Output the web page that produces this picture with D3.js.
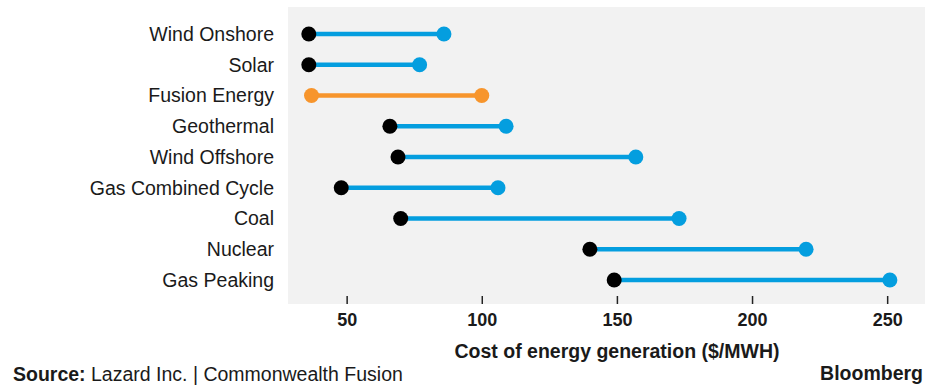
<!DOCTYPE html>
<html>
<head>
<meta charset="utf-8">
<script src="https://cdn.jsdelivr.net/npm/d3@7"></script>
<style>
  body { margin: 0; background: #ffffff; }
  text { font-family: "Liberation Sans", Arial, sans-serif; fill: #1a1a1a; }
</style>
</head>
<body>
<div id="chart"></div>
<script>
// cost ranges ($/MWH)
var sources = ["Wind Onshore", "Solar", "Fusion Energy", "Geothermal", "Wind Offshore",
               "Gas Combined Cycle", "Coal", "Nuclear", "Gas Peaking"];
var lowCost  = [36, 36, 37, 66, 69, 48, 70, 140, 149];
var highCost = [86, 77, 100, 109, 157, 106, 173, 220, 251];
var xTicks = [50, 100, 150, 200, 250];

var width = 936, height = 390;
var blue = "#049edf", orange = "#f7952c";

var svg = d3.select("#chart").append("svg")
    .attr("width", width)
    .attr("height", height);

var x = d3.scaleLinear().domain([28.3, 264]).range([288, 925]);
var y = d3.scalePoint().domain(sources).range([34, 280]);

// plot background
svg.append("rect")
    .attr("x", x.range()[0])
    .attr("y", 7)
    .attr("width", x.range()[1] - x.range()[0])
    .attr("height", 297)
    .attr("fill", "#f2f2f2");

// x axis: small ticks inside the bottom of the panel, bold labels under
var xAxis = svg.append("g")
    .attr("transform", "translate(0,304)")
    .call(d3.axisBottom(x).tickValues(xTicks).tickSize(0).tickPadding(9));
xAxis.select(".domain").remove();
xAxis.selectAll("text")
    .attr("font-size", 18)
    .attr("font-weight", "bold")
    .attr("font-family", "Liberation Sans, Arial, sans-serif")
    .attr("fill", "#1a1a1a");
xAxis.selectAll(".tick").append("line")
    .attr("y1", -8).attr("y2", 0)
    .attr("stroke", "#222").attr("stroke-width", 1.5);

// y labels
svg.selectAll(".ylab")
    .data(sources)
    .enter().append("text")
    .attr("class", "ylab")
    .attr("x", 274)
    .attr("y", function(d){ return y(d); })
    .attr("dy", "0.35em")
    .attr("text-anchor", "end")
    .attr("font-size", 19.5)
    .text(function(d){ return d; });

// dumbbells
var rows = svg.selectAll(".row")
    .data(sources)
    .enter().append("g")
    .attr("class", "row");

rows.append("line")
    .attr("x1", function(d, i){ return x(lowCost[i]); })
    .attr("x2", function(d, i){ return x(highCost[i]); })
    .attr("y1", function(d){ return y(d); })
    .attr("y2", function(d){ return y(d); })
    .attr("stroke", function(d){ return d == "Fusion Energy" ? orange : blue; })
    .attr("stroke-width", 4.5);

rows.append("circle")
    .attr("cx", function(d, i){ return x(highCost[i]); })
    .attr("cy", function(d){ return y(d); })
    .attr("r", 7.5)
    .attr("fill", function(d){ return d == "Fusion Energy" ? orange : blue; });

rows.append("circle")
    .attr("cx", function(d, i){ return x(lowCost[i]); })
    .attr("cy", function(d){ return y(d); })
    .attr("r", 7.5)
    .attr("fill", function(d){ return d == "Fusion Energy" ? orange : "#000"; });

// axis title
svg.append("text")
    .attr("x", 617)
    .attr("y", 358)
    .attr("text-anchor", "middle")
    .attr("font-size", 19.5)
    .attr("font-weight", "bold")
    .text("Cost of energy generation ($/MWH)");

// footer
var src = svg.append("text")
    .attr("x", 13)
    .attr("y", 381)
    .attr("font-size", 19.5);
src.append("tspan").attr("font-weight", "bold").text("Source:");
src.append("tspan").text(" Lazard Inc. | Commonwealth Fusion");

svg.append("text")
    .attr("x", 923)
    .attr("y", 380)
    .attr("text-anchor", "end")
    .attr("font-size", 19.5)
    .attr("font-weight", "bold")
    .text("Bloomberg");
</script>
</body>
</html>
